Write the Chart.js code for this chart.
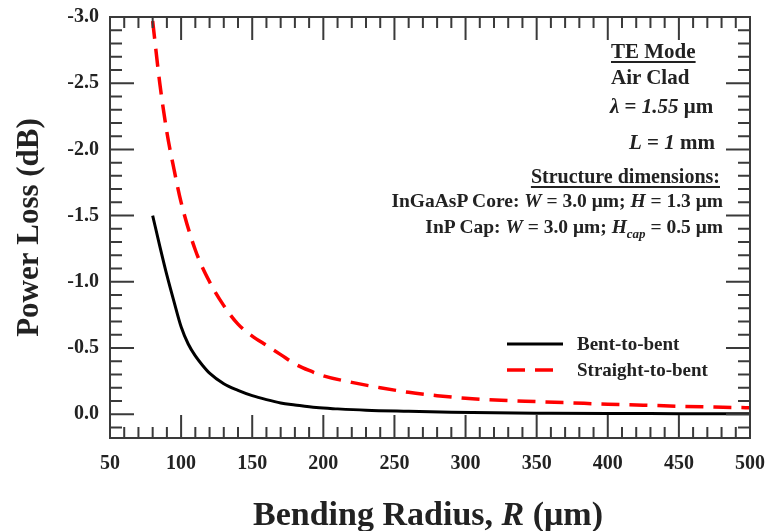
<!DOCTYPE html>
<html>
<head>
<meta charset="utf-8">
<script src="https://cdn.jsdelivr.net/npm/chart.js@4/dist/chart.umd.min.js"></script>
<style>
html,body{margin:0;padding:0;background:#fff;}
#wrap{position:relative;width:766px;height:531px;overflow:hidden;}
#c{position:absolute;left:0;top:0;}
.note{position:absolute;font-family:"Liberation Serif",serif;font-weight:bold;font-size:20px;color:#222;white-space:nowrap;line-height:20px;}
.big{font-size:21px;line-height:21px;}
.small{font-size:19.5px;line-height:19.5px;}
.u{text-decoration:underline;text-underline-offset:3px;text-decoration-thickness:1.5px;}
.r{text-align:right;}
sub.cap{font-size:13px;font-style:italic;vertical-align:-5px;line-height:0;}
#xtitle{position:absolute;left:428px;top:497px;transform:translateX(-50%);font-family:"Liberation Serif",serif;font-weight:bold;font-size:34px;line-height:34px;color:#222;white-space:nowrap;}
</style>
</head>
<body>
<div id="wrap">
<canvas id="c" width="766" height="531"></canvas>
<div class="note big u" style="left:611px;top:41px">TE Mode</div>
<div class="note big" style="left:611px;top:67px">Air Clad</div>
<div class="note big" style="left:610px;top:96px"><i>λ</i> = <i>1.55</i> μm</div>
<div class="note big r" style="right:51px;top:132px"><i>L</i> = <i>1</i> mm</div>
<div class="note u r" style="right:46px;top:166px">Structure dimensions:</div>
<div class="note small r" style="right:43px;top:191px">InGaAsP Core: <i>W</i> = 3.0 μm; <i>H</i> = 1.3 μm</div>
<div class="note small r" style="right:43px;top:217px">InP Cap: <i>W</i> = 3.0 μm; <i>H</i><sub class="cap">cap</sub> = 0.5 μm</div>
<div id="xtitle">Bending Radius, <i>R</i> (μm)</div>
</div>
<script>
// ---- data ----
const bentRadius = [80,85,90,95,100,105,110,115,120,130,140,150,160,170,180,195,210,230,260,290,320,360,400,450,500];
const bentLoss   = [-1.50,-1.27,-1.05,-0.85,-0.66,-0.53,-0.44,-0.37,-0.31,-0.23,-0.18,-0.14,-0.11,-0.085,-0.07,-0.05,-0.04,-0.03,-0.022,-0.015,-0.01,-0.007,-0.005,-0.004,-0.003];

const straightRadius = [80,85,90,95,100,110,120,130,140,150,160,170,180,190,200,220,240,260,280,300,325,350,375,400,425,450,475,500];
const straightLoss   = [-2.97,-2.50,-2.13,-1.85,-1.60,-1.24,-1.00,-0.82,-0.68,-0.59,-0.52,-0.45,-0.38,-0.33,-0.29,-0.24,-0.20,-0.165,-0.14,-0.12,-0.105,-0.095,-0.085,-0.075,-0.068,-0.06,-0.054,-0.048];

const seriesLabels = ['Bent-to-bent','Straight-to-bent'];
const xTickLabels = [50,100,150,200,250,300,350,400,450,500];
const yTickLabels = [-3.0,-2.5,-2.0,-1.5,-1.0,-0.5,0.0];
const xMinorStep = 10;
const yMinorStep = 0.1;

const FONT = '"Liberation Serif", serif';
const INK = '#222';
const FRAME = '#3a3a3a';

const toPoints = (xs, ys) => xs.map((v, i) => ({x: v, y: ys[i]}));

const frameTicks = {
  id: 'frameTicks',
  afterDatasetsDraw(chart) {
    const {ctx, chartArea: {left, right, top, bottom}, scales: {x, y}} = chart;
    ctx.save();
    ctx.strokeStyle = FRAME;
    ctx.lineWidth = 2;
    ctx.beginPath();
    const xMin = x.min, xMax = x.max;
    for (let k = 0; ; k++) {
      const v = xMin + k * xMinorStep;
      if (v > xMax + 1e-9) break;
      const px = x.getPixelForValue(v);
      const major = xTickLabels.includes(v);
      const L = major ? 23 : 11;
      ctx.moveTo(px, bottom); ctx.lineTo(px, bottom - L);
      ctx.moveTo(px, top); ctx.lineTo(px, top + L);
    }
    for (let k = 0; ; k++) {
      const v = Math.round((y.min + k * yMinorStep) * 10) / 10;
      if (v > y.max + 1e-9) break;
      const py = y.getPixelForValue(v);
      const major = yTickLabels.some(t => Math.abs(t - v) < 1e-9);
      const L = major ? 24 : 12;
      ctx.moveTo(left, py); ctx.lineTo(left + L, py);
      ctx.moveTo(right, py); ctx.lineTo(right - L, py);
    }
    ctx.stroke();
    ctx.strokeRect(left, top, right - left, bottom - top);
    ctx.restore();
  }
};

const innerLegend = {
  id: 'innerLegend',
  afterDraw(chart) {
    const {ctx} = chart;
    const x0 = 507, x1 = 563, tx = 577;
    const rows = [344, 370];
    ctx.save();
    chart.data.datasets.forEach((ds, i) => {
      const yy = rows[i];
      ctx.beginPath();
      ctx.strokeStyle = ds.borderColor;
      ctx.lineWidth = ds.borderWidth;
      ctx.setLineDash(ds.borderDash || []);
      ctx.moveTo(x0, yy); ctx.lineTo(x1, yy);
      ctx.stroke();
      ctx.setLineDash([]);
      ctx.fillStyle = INK;
      ctx.font = 'bold 19px ' + FONT;
      ctx.textBaseline = 'middle';
      ctx.textAlign = 'left';
      ctx.fillText(ds.label, tx, yy + 1);
    });
    ctx.restore();
  }
};

new Chart(document.getElementById('c'), {
  type: 'line',
  data: {
    datasets: [
      {
        label: seriesLabels[0],
        data: toPoints(bentRadius, bentLoss),
        borderColor: '#000000',
        borderWidth: 3,
        pointRadius: 0,
        cubicInterpolationMode: 'monotone',
        fill: false
      },
      {
        label: seriesLabels[1],
        data: toPoints(straightRadius, straightLoss),
        borderColor: '#ff0000',
        borderWidth: 3.5,
        borderDash: [18, 10],
        pointRadius: 0,
        cubicInterpolationMode: 'monotone',
        fill: false
      }
    ]
  },
  options: {
    responsive: false,
    animation: false,
    devicePixelRatio: 1,
    layout: {padding: {top: 17, right: 16, left: 0, bottom: 0}},
    plugins: {legend: {display: false}, tooltip: {enabled: false}, title: {display: false}},
    scales: {
      x: {
        type: 'linear',
        min: 50, max: 500,
        afterBuildTicks: s => { s.ticks = xTickLabels.map(v => ({value: v})); },
        afterFit: s => { s.height = 93; s.paddingLeft = 0; s.paddingRight = 0; },
        grid: {display: false, drawTicks: false},
        border: {display: false},
        ticks: {
          padding: 14,
          color: INK,
          font: {family: FONT, weight: 'bold', size: 20},
          maxRotation: 0,
          callback: v => String(v)
        }
      },
      y: {
        type: 'linear',
        reverse: true,
        min: -3.0, max: 0.18,
        afterBuildTicks: s => { s.ticks = yTickLabels.map(v => ({value: v})); },
        afterFit: s => { s.width = 110; s.paddingTop = 0; s.paddingBottom = 0; },
        grid: {display: false, drawTicks: false},
        border: {display: false},
        ticks: {
          padding: 11,
          color: INK,
          font: {family: FONT, weight: 'bold', size: 20},
          callback: v => (Math.abs(v) < 1e-9 ? 0 : v).toFixed(1)
        },
        title: {
          display: true,
          text: 'Power Loss (dB)',
          color: INK,
          font: {family: FONT, weight: 'bold', size: 31, lineHeight: 1},
          padding: {top: 14, bottom: 0}
        }
      }
    }
  },
  plugins: [frameTicks, innerLegend]
});
</script>
</body>
</html>
